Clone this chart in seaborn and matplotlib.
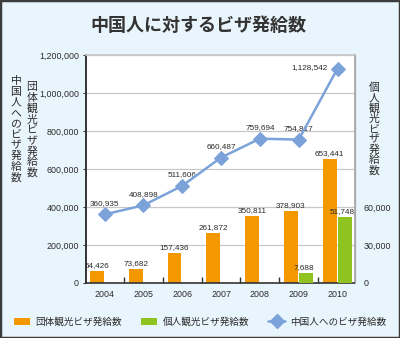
import matplotlib
matplotlib.use("Agg")
import matplotlib.pyplot as plt
import seaborn as sns
import pandas as pd
from matplotlib.ticker import FuncFormatter
from matplotlib.patches import Patch, Rectangle
from matplotlib.lines import Line2D
from matplotlib.font_manager import FontProperties

# --- data -------------------------------------------------------------
years = [2004, 2005, 2006, 2007, 2008, 2009, 2010]
group_visas = [64426, 73682, 157436, 261872, 350811, 378903, 653441]
indiv_years = [2009, 2010]
indiv_visas = [7688, 51748]
total_visas = [360935, 408898, 511606, 660487, 759694, 754817, 1128542]

left_ticks = [0, 200000, 400000, 600000, 800000, 1000000, 1200000]
right_ticks = [0, 30000, 60000]

title = "中国人に対するビザ発給数"
label_group = "団体観光ビザ発給数"
label_indiv = "個人観光ビザ発給数"
label_total = "中国人へのビザ発給数"

# --- style ------------------------------------------------------------
ORANGE = "#f39800"
GREEN = "#8fc31f"
BLUE = "#7ca3d9"
BG = "#e9f5fc"
TXT = "#2a2a2a"
GRID = "#c8c8c8"

sns.set_theme(style="white")
plt.rcParams["font.family"] = ["Liberation Sans", "Noto Sans CJK JP", "DejaVu Sans"]
JP = ["Noto Sans CJK JP", "DejaVu Sans"]

W, H = 400, 338
fig = plt.figure(figsize=(W / 100, H / 100), dpi=100, facecolor=BG)
ax = fig.add_axes([86 / W, 1 - 283 / H, (355 - 86) / W, (283 - 55) / H])
ax.set_facecolor("white")
ax2 = ax.twinx()

# group tourist visas (left scale)
df_g = pd.DataFrame({"x": [y - 0.2 for y in years], "v": group_visas})
sns.barplot(data=df_g, x="x", y="v", native_scale=True, width=0.36,
            color=ORANGE, saturation=1, linewidth=0, ax=ax)

# total visas issued (left scale)
sns.lineplot(x=years, y=total_visas, color=BLUE, marker="D", markersize=7.5,
             markeredgecolor=BLUE, linewidth=1.8, ax=ax, zorder=4)

# individual tourist visas (right scale)
df_i = pd.DataFrame({"x": [y + 0.2 for y in indiv_years], "v": indiv_visas})
sns.barplot(data=df_i, x="x", y="v", native_scale=True, width=0.36,
            color=GREEN, saturation=1, linewidth=0, ax=ax2)

# --- axes -------------------------------------------------------------
fmt = FuncFormatter(lambda v, _: f"{v:,.0f}")
ax.set_ylim(0, 1200000)
ax.set_yticks(left_ticks)
ax.yaxis.set_major_formatter(fmt)
ax2.set_ylim(0, 180000)
ax2.set_yticks(right_ticks)
ax2.yaxis.set_major_formatter(fmt)

ax.set_xlim(2003.52, 2010.45)
ax.set_xticks(years)
ax.set_xticklabels([str(y) for y in years])
ax.set_xticks([y + 0.5 for y in years[:-1]], minor=True)
ax.set_xlabel("")
ax.set_ylabel("")
ax2.set_xlabel("")
ax2.set_ylabel("")

ax.tick_params(axis="x", which="major", length=0, pad=5, labelsize=6.4, labelcolor=TXT)
ax.tick_params(axis="x", which="minor", direction="in", length=4, width=1, color="#333333", bottom=True)
ax.tick_params(axis="y", length=2, width=0.8, color="#333333", pad=3, labelsize=6.4, labelcolor=TXT)
ax2.tick_params(axis="y", length=0, pad=6, labelsize=6.4, labelcolor=TXT)

ax.yaxis.grid(True, color=GRID, linewidth=0.9)
ax.xaxis.grid(False)
ax2.grid(False)
ax.set_axisbelow(True)

ax.spines["left"].set_color("#333333")
ax.spines["left"].set_linewidth(1.4)
ax.spines["bottom"].set_color("#333333")
ax.spines["bottom"].set_linewidth(1.2)
ax.spines["top"].set_color(GRID)
ax.spines["right"].set_color("#a8a8a8")
for s in ("left", "bottom", "top"):
    ax2.spines[s].set_visible(False)
ax2.spines["right"].set_color("#a8a8a8")
ax2.spines["right"].set_linewidth(0.9)

# --- value labels -----------------------------------------------------
lab = dict(fontsize=5.9, color=TXT, textcoords="offset points")
for x, v in zip(years, group_visas):
    ax.annotate(f"{v:,}", (x - 0.2, v), xytext=(0, 1.5), ha="center", va="bottom", **lab)
for x, v in zip(indiv_years, indiv_visas):
    ax2.annotate(f"{v:,}", (x + 0.2, v), xytext=(-2, 1.5), ha="center", va="bottom", **lab)
for x, v in zip(years[:-1], total_visas[:-1]):
    ax.annotate(f"{v:,}", (x, v), xytext=(0, 5.5), ha="center", va="bottom", **lab)
ax.annotate(f"{total_visas[-1]:,}", (years[-1], total_visas[-1]), xytext=(-7, 1),
            ha="right", va="center", **lab)

# --- titles and vertical axis captions --------------------------------
fig.text(198 / W, 1 - 25 / H, title, ha="center", va="center", fontsize=13,
         fontweight="bold", color="#333333", family=JP)


def vertical(x_px, top_px, text, step_px=10.7, size=7.8):
    """Stack characters top to bottom, each on a common em-box baseline."""
    size_px = size * 100 / 72
    for k, ch in enumerate(text):
        base = top_px + (k + 0.5) * step_px + 0.38 * size_px
        fig.text(x_px / W, 1 - base / H, ch, ha="center", va="baseline",
                 fontsize=size, color=TXT, family=JP)


vertical(16, 75, label_total)
vertical(32, 81, label_group)
vertical(374, 82, label_indiv, step_px=10.3)

# --- legend -----------------------------------------------------------
handles = [
    Patch(facecolor=ORANGE, edgecolor="none"),
    Patch(facecolor=GREEN, edgecolor="none"),
    Line2D([], [], color=BLUE, marker="D", markersize=7, linewidth=1.8),
]
fig.legend(handles, [label_group, label_indiv, label_total], loc="center",
           bbox_to_anchor=(0.5, 1 - 322 / H), ncol=3, frameon=False,
           prop=FontProperties(family=JP, size=6.9), labelcolor=TXT,
           handlelength=1.7, handleheight=0.75, handletextpad=0.55,
           columnspacing=2.0)

# outer frame
fig.patches.append(Rectangle((0, 0), 1, 1, transform=fig.transFigure, fill=False,
                             edgecolor="#3c3c3c", linewidth=2.5))

fig.savefig("out.png", dpi=100, facecolor=BG)
